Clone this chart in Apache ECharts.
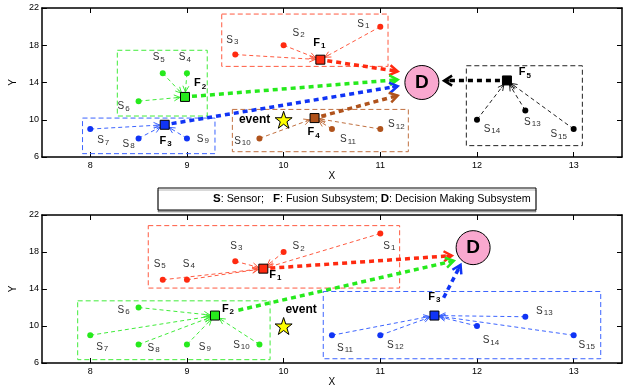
<!DOCTYPE html>
<html><head><meta charset="utf-8">
<script src="https://cdn.jsdelivr.net/npm/echarts@6/dist/echarts.min.js"></script>
<style>html,body{margin:0;padding:0;background:#fff}#c{width:624px;height:388px}</style>
</head><body><div id="c"></div>
<script>
// ================= DATA =================
const xTicks = [8, 9, 10, 11, 12, 13];
const yTicks = [6, 10, 14, 18, 22];
const xRange = [7.5, 13.5];
const yRange = [6, 22];
const axisNames = ['X', 'Y'];
const legendParts = [['S', ': Sensor;   '], ['F', ': Fusion Subsystem; '], ['D', ': Decision Making Subsystem']];
const eventText = 'event';
const decisionText = 'D';

// ---- top panel ----
const tRedSensors = [[11, 20], [10, 18], [9.5, 17]];
const tRedIds = ['1', '2', '3'];
const tGreenSensors = [[9, 15], [8.75, 15], [8.5, 12]];
const tGreenIds = ['4', '5', '6'];
const tBlueSensors = [[8, 9], [8.5, 8], [9, 8]];
const tBlueIds = ['7', '8', '9'];
const tBrownSensors = [[9.75, 8], [10.5, 9], [11, 9]];
const tBrownIds = ['10', '11', '12'];
const tBlackSensors = [[12.5, 11], [12, 10], [13, 9]];
const tBlackIds = ['13', '14', '15'];
const tFusion = [[10.38, 16.45], [8.98, 12.45], [8.77, 9.46], [10.32, 10.18], [12.31, 14.22]];
const tFusionIds = ['1', '2', '3', '4', '5'];
const tArrowTips = [[11.18, 15.2], [11.18, 14.3], [11.18, 13.6], [11.18, 12.6], [11.66, 14.2]];
const tDecision = [11.43, 14];
const tEvent = [10, 10];
const tBoxes = [[9.36, 15.73, 11.08, 21.35], [8.28, 10.4, 9.21, 17.46], [7.92, 6.36, 9.29, 10.18], [9.47, 6.57, 11.29, 11.11], [11.89, 7.22, 13.09, 15.8]];

// ---- bottom panel ----
const bRedSensors = [[11, 20], [10, 18], [9.5, 17], [9, 15], [8.75, 15]];
const bRedIds = ['1', '2', '3', '4', '5'];
const bGreenSensors = [[8.5, 12], [8, 9], [8.5, 8], [9, 8], [9.75, 8]];
const bGreenIds = ['6', '7', '8', '9', '10'];
const bBlueSensors = [[10.5, 9], [11, 9], [12.5, 11], [12, 10], [13, 9]];
const bBlueIds = ['11', '12', '13', '14', '15'];
const bFusion = [[9.79, 16.2], [9.29, 11.13], [11.56, 11.13]];
const bFusionIds = ['1', '2', '3'];
const bArrowTips = [[11.74, 17.6], [11.76, 17.04], [11.83, 16.6]];
const bDecision = [11.96, 18.47];
const bEvent = [10, 10];
const bBoxes = [[8.6, 14.1, 11.2, 20.85], [7.87, 6.36, 9.86, 12.72], [10.41, 6.46, 13.28, 13.73]];

// ================= STYLE / LAYOUT =================
const C = { red: '#ff2a10', green: '#26ea1c', blue: '#1034f5', brown: '#b0531c', black: '#000000' };
const CL = { red: '#ff5a40', green: '#40ec3a', blue: '#3c64ff', brown: '#c07040', black: '#222222' };
const tOff = {
  red: [[-17, -2], [15, -12], [-3, -14]],
  green: [[-2, -15], [-4, -15], [-15, 6]],
  blue: [[13, 12], [-10, 6], [16, 1]],
  brown: [[-17, 3], [16, 11], [16, -4]],
  black: [[7, 12], [15, 10], [-15, 6]],
  fusion: [[-1, -16], [15, -13], [1, 17], [-1, 15], [18, -7]],
  event: [-29, 0]
};
const bOff = {
  red: [[9, 13], [15, -5], [1, -15], [2, -15], [-3, -15]],
  green: [[-15, 3], [12, 12], [15, 4], [18, 3], [-18, 1]],
  blue: [[13, 13], [15, 10], [19, -5], [14, 15], [13, 10]],
  fusion: [[12, 7], [13, -6], [0, -18]],
  event: [17.5, -16]
};
const FONT = 'Liberation Sans, Arial, Helvetica, sans-serif';
const sRich = {
  s: { fontSize: 10, lineHeight: 11, verticalAlign: 'top', color: '#333', fontFamily: FONT },
  sub: { fontSize: 8, lineHeight: 8, verticalAlign: 'bottom', color: '#333', fontFamily: FONT, padding: [6, 0, 0, 1] }
};
const fRich = {
  f: { fontSize: 11, lineHeight: 13, verticalAlign: 'top', color: '#000', fontWeight: 'bold', fontFamily: FONT },
  sub: { fontSize: 8, lineHeight: 8, verticalAlign: 'bottom', color: '#000', fontWeight: 'bold', fontFamily: FONT, padding: [9, 0, 0, 1] }
};
const STAR = 'path://M50,2 L61.8,36.2 L97.6,36.2 L68.6,57.4 L79.6,91.6 L50,70.4 L20.4,91.6 L31.4,57.4 L2.4,36.2 L38.2,36.2 Z';

// ================= BUILDERS =================
function axesFor(gi) {
  const line = { show: true, onZero: false, lineStyle: { color: '#000', width: 1.5 } };
  const tick = (vals) => ({ show: true, inside: true, length: 5, customValues: vals, lineStyle: { color: '#000', width: 1 } });
  const xa = (pos, lab) => ({
    type: 'value', gridIndex: gi, position: pos, min: xRange[0], max: xRange[1],
    axisLine: line, axisTick: tick(xTicks), splitLine: { show: false },
    axisLabel: { show: lab, customValues: xTicks, color: '#000', fontSize: 9, margin: 4, fontFamily: FONT },
    name: lab ? axisNames[0] : '', nameLocation: 'middle', nameGap: 13,
    nameTextStyle: { fontSize: 10, color: '#000', fontFamily: FONT }
  });
  const ya = (pos, lab) => ({
    type: 'value', gridIndex: gi, position: pos, min: yRange[0], max: yRange[1],
    axisLine: line, axisTick: tick(yTicks), splitLine: { show: false },
    axisLabel: { show: lab, customValues: yTicks, color: '#000', fontSize: 9, margin: 3, fontFamily: FONT },
    name: lab ? axisNames[1] : '', nameLocation: 'middle', nameGap: 14, nameRotate: 90,
    nameTextStyle: { fontSize: 10, color: '#000', fontFamily: FONT }
  });
  return { x: [xa('bottom', true), xa('top', false)], y: [ya('left', true), ya('right', false)] };
}

function boxSeries(ai, boxes, colors) {
  return {
    type: 'custom', xAxisIndex: ai, yAxisIndex: ai, silent: true, z: 1,
    data: boxes, encode: { x: [0, 2], y: [1, 3] },
    renderItem: (p, api) => {
      const a = api.coord([api.value(0), api.value(1)]);
      const b = api.coord([api.value(2), api.value(3)]);
      return {
        type: 'rect',
        shape: { x: Math.min(a[0], b[0]), y: Math.min(a[1], b[1]), width: Math.abs(b[0] - a[0]), height: Math.abs(b[1] - a[1]) },
        style: { fill: null, stroke: colors[p.dataIndex], lineWidth: 1, lineDash: [5, 3] }
      };
    }
  };
}

function arrowSeries(ai, segs, colors, o) {
  return {
    type: 'custom', xAxisIndex: ai, yAxisIndex: ai, silent: true, z: o.z,
    data: segs, encode: { x: [0, 2], y: [1, 3] },
    renderItem: (p, api) => {
      const i = p.dataIndex;
      const a = api.coord([api.value(0), api.value(1)]);
      const b = api.coord([api.value(2), api.value(3)]);
      const dx = b[0] - a[0], dy = b[1] - a[1], L = Math.hypot(dx, dy) || 1;
      const ux = dx / L, uy = dy / L, nx = -uy, ny = ux;
      const g0 = o.g0[i] !== undefined ? o.g0[i] : o.g0d, g1 = o.g1;
      const s = [a[0] + ux * g0, a[1] + uy * g0];
      const e = [b[0] - ux * g1, b[1] - uy * g1];
      const bx = e[0] - ux * o.hl, by = e[1] - uy * o.hl;
      return {
        type: 'group', children: [
          { type: 'line', shape: { x1: s[0], y1: s[1], x2: bx + ux * o.hl * 0.5, y2: by + uy * o.hl * 0.5 },
            style: { stroke: colors[i], lineWidth: o.lw, lineDash: o.dash } },
          { type: 'polyline', shape: { points: [[bx + nx * o.hw, by + ny * o.hw], e, [bx - nx * o.hw, by - ny * o.hw]] },
            style: { stroke: colors[i], lineWidth: o.hlw, fill: null } },
          { type: 'line', shape: { x1: bx + ux * o.hl * 0.3, y1: by + uy * o.hl * 0.3, x2: e[0], y2: e[1] },
            style: { stroke: colors[i], lineWidth: o.hlw } }
        ]
      };
    }
  };
}

function sensorSeries(ai, pts, ids, color, offs) {
  return {
    type: 'scatter', xAxisIndex: ai, yAxisIndex: ai, silent: true, z: 5,
    symbol: 'circle', symbolSize: 6, itemStyle: { color: color, opacity: 1 },
    data: pts.map((pt, i) => ({
      value: pt,
      label: { show: true, position: 'inside', offset: offs[i], formatter: '{s|S}{sub|' + ids[i] + '}', rich: sRich }
    }))
  };
}

function fusionSeries(ai, pts, ids, colors, offs) {
  return {
    type: 'scatter', xAxisIndex: ai, yAxisIndex: ai, silent: true, z: 6,
    symbol: 'rect', symbolSize: 9,
    data: pts.map((pt, i) => ({
      value: pt,
      itemStyle: { color: colors[i], borderColor: '#000', borderWidth: 1, opacity: 1 },
      label: { show: true, position: 'inside', offset: offs[i], formatter: '{f|F}{sub|' + ids[i] + '}', rich: fRich }
    }))
  };
}

function decisionSeries(ai, pt) {
  return {
    type: 'scatter', xAxisIndex: ai, yAxisIndex: ai, silent: true, z: 7,
    symbol: 'circle', symbolSize: 34,
    itemStyle: { color: '#f9a8cf', borderColor: '#000', borderWidth: 1, opacity: 1 },
    label: { show: true, position: 'inside', formatter: decisionText, fontSize: 19, fontWeight: 'bold', color: '#000', fontFamily: FONT },
    data: [pt]
  };
}

function eventSeries(ai, pt, off) {
  return {
    type: 'scatter', xAxisIndex: ai, yAxisIndex: ai, silent: true, z: 7,
    symbol: STAR, symbolSize: 17,
    itemStyle: { color: '#ffff00', borderColor: '#000', borderWidth: 1, opacity: 1 },
    label: { show: true, position: 'inside', offset: off, formatter: eventText, fontSize: 12, fontWeight: 'bold', color: '#000', fontFamily: FONT },
    data: [pt]
  };
}

const thin = { lw: 1, dash: [4, 3], hl: 6, hw: 3, hlw: 1, g0d: 0, g0: [], g1: 5, z: 3 };
function thinSegs(sensors, f) { return sensors.map(s => [s[0], s[1], f[0], f[1]]); }
function thickSegs(fus, tips) { return fus.map((f, i) => [f[0], f[1], tips[i][0], tips[i][1]]); }

// ================= OPTION =================
const A0 = axesFor(0), A1 = axesFor(1);
const series = [
  // top
  boxSeries(0, tBoxes, [CL.red, CL.green, CL.blue, CL.brown, CL.black]),
  arrowSeries(0, thinSegs(tRedSensors, tFusion[0]), [CL.red, CL.red, CL.red], thin),
  arrowSeries(0, thinSegs(tGreenSensors, tFusion[1]), [CL.green, CL.green, CL.green], thin),
  arrowSeries(0, thinSegs(tBlueSensors, tFusion[2]), [CL.blue, CL.blue, CL.blue], thin),
  arrowSeries(0, thinSegs(tBrownSensors, tFusion[3]), [CL.brown, CL.brown, CL.brown], thin),
  arrowSeries(0, thinSegs(tBlackSensors, tFusion[4]), [CL.black, CL.black, CL.black], thin),
  arrowSeries(0, thickSegs(tFusion, tArrowTips), [C.red, C.green, C.blue, C.brown, C.black],
    { lw: 3.5, dash: [5, 4], hl: 8, hw: 5, hlw: 2.5, g0d: 7, g0: [], g1: 0, z: 4 }),
  sensorSeries(0, tRedSensors, tRedIds, C.red, tOff.red),
  sensorSeries(0, tGreenSensors, tGreenIds, C.green, tOff.green),
  sensorSeries(0, tBlueSensors, tBlueIds, C.blue, tOff.blue),
  sensorSeries(0, tBrownSensors, tBrownIds, C.brown, tOff.brown),
  sensorSeries(0, tBlackSensors, tBlackIds, C.black, tOff.black),
  fusionSeries(0, tFusion, tFusionIds, [C.red, C.green, C.blue, C.brown, C.black], tOff.fusion),
  decisionSeries(0, tDecision),
  eventSeries(0, tEvent, tOff.event),
  // bottom
  boxSeries(1, bBoxes, [CL.red, CL.green, CL.blue]),
  arrowSeries(1, thinSegs(bRedSensors, bFusion[0]), bRedSensors.map(() => CL.red), thin),
  arrowSeries(1, thinSegs(bGreenSensors, bFusion[1]), bGreenSensors.map(() => CL.green), thin),
  arrowSeries(1, thinSegs(bBlueSensors, bFusion[2]), bBlueSensors.map(() => CL.blue), thin),
  arrowSeries(1, thickSegs(bFusion, bArrowTips), [C.red, C.green, C.blue],
    { lw: 3.5, dash: [5, 4], hl: 8, hw: 5, hlw: 2.5, g0d: 7, g0: [7, 24, 20], g1: 0, z: 4 }),
  sensorSeries(1, bRedSensors, bRedIds, C.red, bOff.red),
  sensorSeries(1, bGreenSensors, bGreenIds, C.green, bOff.green),
  sensorSeries(1, bBlueSensors, bBlueIds, C.blue, bOff.blue),
  fusionSeries(1, bFusion, bFusionIds, [C.red, C.green, C.blue], bOff.fusion),
  decisionSeries(1, bDecision),
  eventSeries(1, bEvent, bOff.event)
];

const legendText = legendParts.map(p => '{b|' + p[0] + '}{r|' + p[1] + '}').join('');

const option = {
  animation: false,
  backgroundColor: '#fff',
  grid: [
    { left: 38, right: 2, top: 8, height: 149 },
    { left: 38, right: 2, top: 215, height: 148 }
  ],
  xAxis: [A0.x[0], A1.x[0], A0.x[1], A1.x[1]],
  yAxis: [A0.y[0], A1.y[0], A0.y[1], A1.y[1]],
  series: series,
  graphic: [
    { type: 'rect', shape: { x: 158, y: 188, width: 378, height: 22 }, z: 10,
      style: { fill: '#fff', stroke: '#000', lineWidth: 1, shadowColor: 'rgba(0,0,0,0.3)', shadowOffsetX: 0, shadowOffsetY: 2, shadowBlur: 0 } },
    { type: 'text', x: 213, y: 199, z: 11,
      style: { text: legendText, verticalAlign: 'middle', align: 'left',
        rich: { b: { fontSize: 11.5, fontWeight: 'bold', fill: '#000', fontFamily: FONT }, r: { fontSize: 10.8, fill: '#000', fontFamily: FONT } } } }
  ]
};
const chart = echarts.init(document.getElementById('c'), null, { renderer: 'canvas' });
chart.setOption(option);
</script></body></html>
